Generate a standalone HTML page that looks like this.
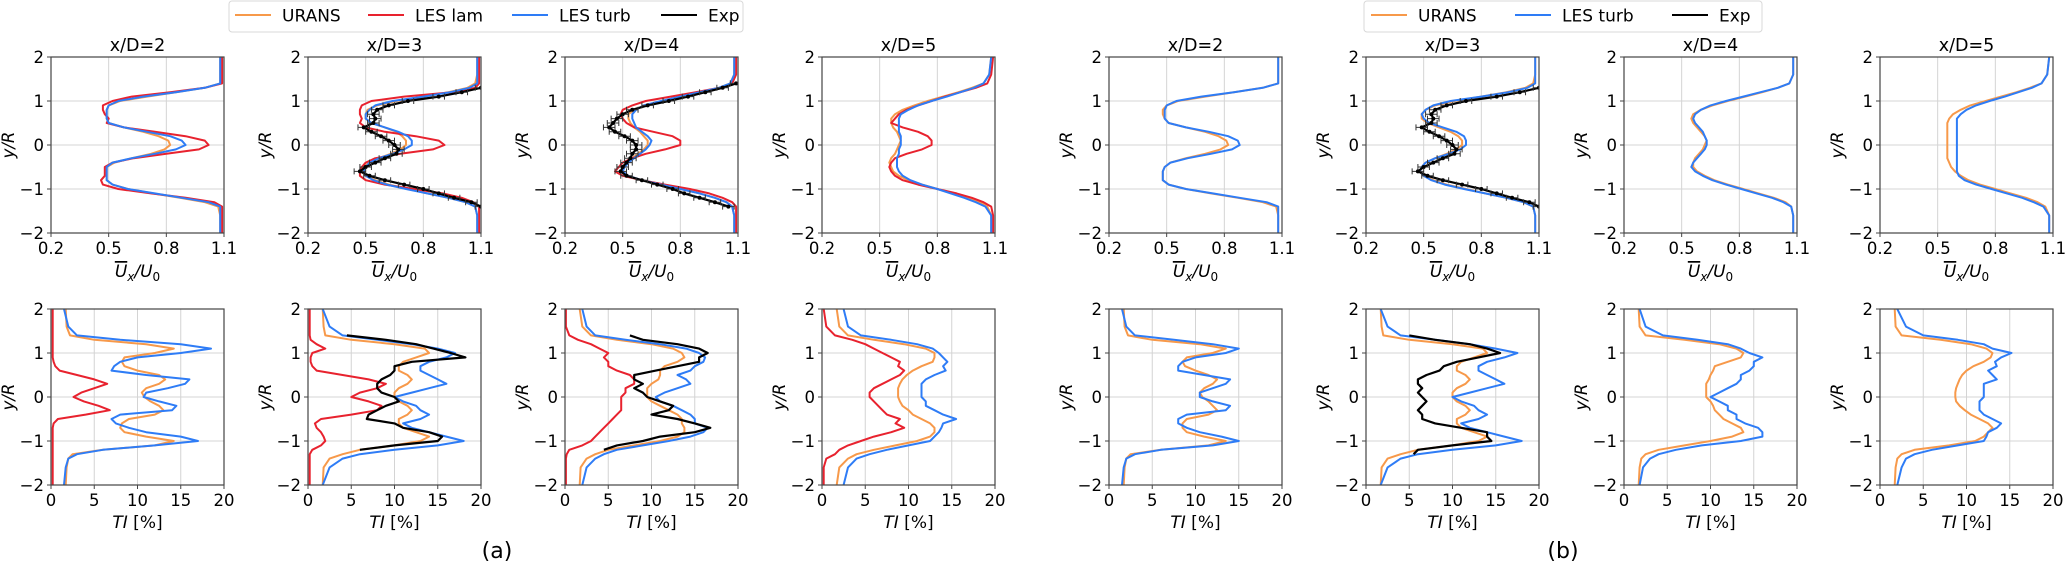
<!DOCTYPE html>
<html><head><meta charset="utf-8"><style>
html,body{margin:0;padding:0;background:#fff;}
svg{display:block;font-family:"DejaVu Sans","Liberation Sans",sans-serif;}
</style></head><body>
<svg id="fig" width="2067" height="572" viewBox="0 0 2067 572"></svg>
<script>
const yLevels=[2,1.6,1.4,1.3,1.2,1.1,1.0,0.9,0.8,0.7,0.6,0.5,0.4,0.3,0.2,0.1,0,-0.1,-0.2,-0.3,-0.4,-0.5,-0.6,-0.7,-0.8,-0.9,-1.0,-1.1,-1.2,-1.3,-1.4,-1.6,-2];
const panelTitles=["x/D=2","x/D=3","x/D=4","x/D=5","x/D=2","x/D=3","x/D=4","x/D=5"];
const velTicks=[0.2,0.5,0.8,1.1];
const tiTicks=[0,5,10,15,20];
const yTicks=[2,1,0,-1,-2];
const n=null;
const velURANS=[
[1.08,1.08,1.08,1.0,0.85,0.7,0.56,0.5,0.49,0.49,0.49,0.5,0.58,0.68,0.76,0.81,0.82,0.79,0.72,0.62,0.53,0.49,0.49,0.49,0.49,0.52,0.6,0.73,0.87,1.0,1.07,1.08,1.08],
[1.08,1.08,1.07,1.03,0.93,0.8,0.66,0.56,0.51,0.5,0.5,0.53,0.6,0.66,0.69,0.71,0.71,0.68,0.63,0.57,0.52,0.49,0.48,0.5,0.55,0.62,0.72,0.82,0.93,1.02,1.07,1.08,1.08],
[1.08,1.08,1.06,1.0,0.92,0.82,0.72,0.62,0.56,0.53,0.53,0.54,0.56,0.59,0.61,0.63,0.63,0.61,0.58,0.55,0.52,0.5,0.5,0.53,0.6,0.7,0.8,0.9,0.98,1.04,1.07,1.08,1.08],
[1.08,1.07,1.04,0.98,0.91,0.83,0.75,0.68,0.62,0.58,0.56,0.56,0.57,0.59,0.6,0.61,0.6,0.59,0.58,0.56,0.55,0.56,0.57,0.6,0.65,0.72,0.8,0.88,0.96,1.02,1.06,1.08,1.08],
[1.08,1.08,1.08,1.0,0.85,0.7,0.56,0.5,0.48,0.48,0.49,0.51,0.6,0.7,0.77,0.81,0.82,0.78,0.7,0.6,0.52,0.49,0.48,0.48,0.48,0.51,0.6,0.73,0.87,1.0,1.07,1.08,1.08],
[1.08,1.08,1.07,1.03,0.93,0.8,0.66,0.56,0.51,0.49,0.49,0.52,0.58,0.64,0.68,0.7,0.7,0.67,0.62,0.56,0.51,0.49,0.48,0.5,0.55,0.62,0.72,0.82,0.93,1.02,1.07,1.08,1.08],
[1.08,1.08,1.06,1.0,0.92,0.83,0.74,0.66,0.6,0.56,0.55,0.56,0.58,0.6,0.62,0.63,0.62,0.61,0.59,0.57,0.56,0.56,0.58,0.62,0.67,0.74,0.82,0.9,0.98,1.04,1.07,1.08,1.08],
[1.08,1.07,1.04,0.98,0.91,0.83,0.75,0.67,0.62,0.58,0.56,0.55,0.55,0.55,0.55,0.55,0.55,0.55,0.55,0.55,0.56,0.57,0.59,0.62,0.66,0.72,0.8,0.88,0.96,1.02,1.06,1.08,1.08]];
const velLam=[
[1.09,1.09,1.09,1.0,0.82,0.62,0.52,0.47,0.47,0.48,0.5,0.49,0.58,0.74,0.9,1.0,1.02,0.97,0.8,0.63,0.52,0.48,0.48,0.48,0.46,0.47,0.55,0.72,0.9,1.05,1.09,1.09,1.09],
[1.09,1.09,1.09,1.07,0.95,0.7,0.53,0.48,0.47,0.47,0.48,0.47,0.5,0.6,0.76,0.88,0.91,0.85,0.68,0.55,0.5,0.48,0.47,0.47,0.5,0.6,0.75,0.9,1.0,1.06,1.09,1.09,1.09],
[1.09,1.09,1.07,1.0,0.88,0.75,0.62,0.55,0.5,0.49,0.5,0.52,0.56,0.66,0.76,0.8,0.8,0.72,0.62,0.55,0.5,0.48,0.46,0.5,0.6,0.72,0.85,0.95,1.02,1.07,1.09,1.09,1.09],
[1.09,1.08,1.06,1.0,0.92,0.84,0.77,0.7,0.64,0.6,0.58,0.56,0.62,0.7,0.75,0.77,0.77,0.72,0.64,0.58,0.56,0.55,0.56,0.58,0.62,0.7,0.8,0.9,0.98,1.04,1.08,1.09,1.09],
n,n,n,n];
const velTurb=[
[1.08,1.08,1.08,1.0,0.85,0.68,0.55,0.5,0.49,0.49,0.49,0.5,0.58,0.7,0.82,0.88,0.9,0.85,0.74,0.62,0.52,0.49,0.49,0.49,0.49,0.52,0.6,0.74,0.88,1.02,1.08,1.08,1.08],
[1.08,1.08,1.08,1.04,0.94,0.8,0.64,0.55,0.52,0.5,0.5,0.53,0.6,0.67,0.72,0.74,0.74,0.7,0.64,0.57,0.52,0.5,0.49,0.5,0.54,0.61,0.71,0.82,0.93,1.02,1.07,1.08,1.08],
[1.08,1.08,1.06,1.0,0.9,0.8,0.7,0.61,0.57,0.55,0.55,0.56,0.57,0.6,0.63,0.65,0.64,0.62,0.59,0.56,0.53,0.51,0.5,0.53,0.6,0.7,0.8,0.9,0.98,1.04,1.07,1.08,1.08],
[1.08,1.07,1.04,0.99,0.92,0.85,0.77,0.7,0.65,0.61,0.6,0.6,0.6,0.6,0.61,0.61,0.61,0.6,0.6,0.59,0.59,0.59,0.6,0.62,0.66,0.72,0.8,0.87,0.94,1.0,1.05,1.08,1.08],
[1.08,1.08,1.08,1.0,0.85,0.68,0.55,0.5,0.49,0.49,0.49,0.51,0.6,0.72,0.82,0.87,0.88,0.84,0.73,0.61,0.52,0.49,0.48,0.48,0.48,0.51,0.6,0.74,0.88,1.02,1.08,1.08,1.08],
[1.08,1.08,1.08,1.04,0.94,0.8,0.64,0.55,0.51,0.49,0.5,0.53,0.6,0.67,0.71,0.72,0.72,0.69,0.63,0.56,0.51,0.49,0.48,0.5,0.54,0.61,0.71,0.82,0.93,1.02,1.07,1.08,1.08],
[1.08,1.08,1.06,1.0,0.91,0.82,0.73,0.65,0.6,0.57,0.56,0.57,0.59,0.61,0.62,0.63,0.63,0.62,0.6,0.58,0.56,0.55,0.57,0.61,0.66,0.73,0.81,0.89,0.97,1.03,1.07,1.08,1.08],
[1.08,1.07,1.04,0.99,0.92,0.85,0.77,0.7,0.65,0.62,0.6,0.6,0.6,0.6,0.6,0.6,0.6,0.6,0.6,0.6,0.6,0.6,0.6,0.61,0.64,0.7,0.78,0.86,0.94,1.0,1.05,1.08,1.08]];
const velExp=[n,
[n,n,n,1.1,1.0,0.88,0.72,0.62,0.56,0.54,0.55,0.54,0.49,0.53,0.58,0.62,0.65,0.67,0.66,0.6,0.55,0.5,0.47,0.52,0.6,0.7,0.8,0.88,0.96,1.05,1.1,n,n],
[n,n,1.09,1.02,0.93,0.84,0.74,0.63,0.55,0.5,0.47,0.45,0.43,0.46,0.51,0.55,0.57,0.57,0.55,0.54,0.52,0.5,0.49,0.52,0.6,0.68,0.76,0.82,0.9,0.98,1.05,n,n],
n,n,
[n,n,n,1.1,1.0,0.88,0.72,0.62,0.56,0.54,0.55,0.54,0.49,0.53,0.58,0.62,0.65,0.67,0.66,0.6,0.55,0.5,0.47,0.52,0.6,0.7,0.8,0.88,0.96,1.05,1.1,n,n],
n,n];
const tiURANS=[
[1.7,1.8,2.2,5,11,14.2,12,8.5,8.2,8.5,10,12.5,13.2,12.5,11,10.5,10.8,11.5,12.5,13,12,9,8.2,8,8.5,11,14.2,12,6,2.5,2,1.8,1.7],
[1.7,1.8,2,5,10,13.5,14,12.5,11,10.5,10.5,11.5,12,11.5,10.5,10,10,10.5,11.5,12,11.5,10.5,10.5,11,12.5,14,13,10,6,4,2.5,1.8,1.7],
[1.7,2,3,6,10,12.5,13.5,13.8,13,11.5,11,11,10.8,10,9.5,9.5,9.5,10,11,12,13,13.5,13.5,13.8,13.8,13,11,8,5,3.5,2.5,1.8,1.7],
[1.7,2,3,6,9.5,12,13,13,12.8,11.5,10.5,9.8,9.3,9,8.8,8.8,8.8,9,9.3,10,10.5,11.5,12.5,13,13,12.5,11,8.5,6,4,3,2,1.7],
[1.7,1.8,2.2,5,10.5,13.5,12,9,8.5,8.8,10,11.5,12.5,12,11,10.5,10.8,11.5,12,12.5,11.5,9,8.5,8.5,9,11,13.5,11.5,6,2.5,2,1.8,1.7],
[1.7,1.8,2,5,10,13.5,14,12.5,11,10.5,10.5,11.5,12,11.5,10.5,10,10,10.5,11.5,12,11.5,10.5,10.5,11,12.5,14,13,10,6,4,2.5,1.8,1.7],
[1.7,1.8,2.5,7,11,13,13.8,13.5,12,10.5,10.3,10,9.8,9.5,9.5,9.5,9.5,10,10.3,10.5,11,11.5,12.5,13.5,13.8,12.5,10,7,4,2.5,2,1.8,1.7],
[1.7,1.8,2.5,7,10.5,12.3,13,12.8,12,10.8,10,9.5,9.2,9,8.8,8.7,8.7,8.8,9.2,9.8,10.5,11.5,12.5,13,12.5,12,11,8,4,2.5,2,1.8,1.7]];
const tiLam=[
[0.2,0.2,0.2,0.2,0.2,0.2,0.2,0.2,0.3,0.5,1,3,5,6.5,5,3.5,2.6,3.8,5.5,6.8,4,0.8,0.3,0.2,0.2,0.2,0.2,0.2,0.2,0.2,0.2,0.2,0.2],
[0.2,0.2,0.2,0.3,1,2,0.5,0.3,0.3,0.5,1,4,7,9,8,6,5,7,8.5,8,5,1.5,0.8,1,1.5,1.8,2,1.5,0.5,0.2,0.2,0.2,0.2],
[0.1,0.1,0.5,1.5,3,4,5,4.5,5,5,6,7.5,8,8,7,7,6.5,6.5,6.5,6.5,6,5.5,5,4.5,4,3.5,3,2,0.5,0.2,0.1,0.1,0.1],
[0.2,0.5,1.5,3.5,5,6,7,8,9,8.8,9.5,9,8,7,6,5.5,5.5,6,6.5,7,7.5,9,8.5,9.5,8,6,4.5,3,2,1.5,0.5,0.2,0.2],
n,n,n,n];
const tiTurb=[
[1.5,2,3,8,15,18.5,15,10,8,7.3,7,11,16,15.5,13.5,11,10.7,12.5,14.5,14,8,7,7.5,9,11,15,17,12,6,3,2,1.7,1.5],
[1.7,2.5,4,8,12,15,17,16,14,13,13,14,15,16,14,12,10,11,12.5,13,14,13,11,12,14,16,18,15,10,6,4,2.5,1.7],
[2,2.5,3.5,7,11,14,15.5,16.2,16,15,14.5,13,14,14.5,13,11.5,10.5,11,12.5,13.5,14.5,15,15,16.5,16,14.5,12,9,6,4.5,3.5,2.5,2],
[2.5,3,4.5,8,11,12.8,13.5,14,14.5,14,14.3,13,12,11.5,11.5,11.5,11.5,12,12,13,14,15.5,14,13.8,13.5,13,12.5,10,7.5,5.5,4,3,2.5],
[1.5,2,3,7.5,12,15,13.5,10,8.5,8,8,11,14,13.5,12,10.5,10.5,12,14,13.5,9,8,8,9,10.5,13,15,12,6,3,2,1.7,1.5],
[1.7,2.5,4,8,12,15,17.5,16,14,13,13,14,15,16,14,12,10,11,12.5,13,14,13,11,12,14,16,18,15,10,6,4,2.5,1.7],
[1.8,2.5,4.5,8.5,12,13.5,14.5,16,15,15,14.5,13.5,13.5,13,12,11,10,11,12,12,13,13,14,15.5,16,16,13.5,9,6,4,3,2.2,1.8],
[2,3,5,9,12,13,15.2,14,13.3,13.5,12.5,13,13.5,12,12,12,12,11.5,11.5,11.5,12,13,14,13.5,12.5,12.3,12,9,6,4,3,2.5,2]];
const tiExp=[n,
[n,n,4.5,9,12.5,14.5,16.5,18.2,12,10,10,9.5,8.5,8,8,8.5,10,10.5,9,8,7,6.8,10,11,14,15.5,15,10,6,n,n,n,n],
[n,n,7.5,9,13,15.5,16.5,15.5,15.5,13,10.5,8,8,9,8,9,9.5,11,12.5,12,10,13,15,16.8,15,11,9,6,4.5,n,n,n,n],
n,n,
[n,n,5,8,12,14,15.5,13,10.5,9,8.5,7,6,6,6.5,6,6.5,7,6.5,6,6.5,6.5,8,11,14,14,14.5,10,6,5.5,n,n,n],
n,n];

const NS="http://www.w3.org/2000/svg";
const svg=document.getElementById('fig');
const C={urans:"#f7994a",lam:"#e8222e",turb:"#2e7cf6",exp:"#000"};
const colX=[51,308,565,822,1109,1366,1624,1880];
const AW=173,AH=176,rowY=[57,309];
function mk(tag,attrs,parent){const e=document.createElementNS(NS,tag);for(const k in attrs)e.setAttribute(k,attrs[k]);(parent||svg).appendChild(e);return e;}
function txt(s,x,y,size,anchor,parent,extra){const t=mk('text',Object.assign({x:x,y:y,'font-size':size,'text-anchor':anchor||'middle',fill:'#000'},extra||{}),parent);t.textContent=s;return t;}

function drawAxes(pi,row,xmin,xmax,xt,series){
  const x0=colX[pi],y0=rowY[row];
  const sx=v=>x0+(v-xmin)/(xmax-xmin)*AW;
  const sy=v=>y0+(2-v)/4*AH;
  const g=mk('g',{});
  
  
  xt.forEach(v=>{const l=mk('line',{x1:sx(v),x2:sx(v),y1:y0,y2:y0+AH,stroke:'#d4d4d4','stroke-width':1},g);
    });
  yTicks.forEach(v=>{const l=mk('line',{x1:x0,x2:x0+AW,y1:sy(v),y2:sy(v),stroke:'#d4d4d4','stroke-width':1},g);
    });
  const clipId='c'+pi+'_'+row;
  const cp=mk('clipPath',{id:clipId},g);mk('rect',{x:x0,y:y0,width:AW,height:AH},cp);
  const lg=mk('g',{'clip-path':'url(#'+clipId+')'},g);
  series.forEach(s=>{
    if(!s.data)return;
    let d='';let pen=false;
    s.data.forEach((v,i)=>{if(v===null){pen=false;return;}d+=(pen?'L':'M')+sx(v).toFixed(1)+','+sy(yLevels[i]).toFixed(1);pen=true;});
    const p=mk('path',{d:d,fill:'none',stroke:s.color,'stroke-width':s.w||2,'stroke-linejoin':'round'},lg);
    
    
    if(s.err){s.data.forEach((v,i)=>{if(v===null)return;const y=sy(yLevels[i]);const a=sx(v-0.03),b=sx(v+0.03);
      const e=mk('path',{d:`M${a},${y}H${b}M${a},${y-3}V${y+3}M${b},${y-3}V${y+3}`,stroke:'#333','stroke-width':1,fill:'none'},lg);
      
      
      const c=mk('circle',{cx:sx(v),cy:y,r:2,fill:'#000'},lg);
      
      });}
  });
  const sp=mk('rect',{x:x0,y:y0,width:AW,height:AH,fill:'none',stroke:'#444','stroke-width':1.2},g);
  
  xt.forEach(v=>{mk('line',{x1:sx(v),x2:sx(v),y1:y0+AH,y2:y0+AH+4,stroke:'#444'},g);
    const t=txt(String(v),sx(v),y0+AH+21,16.5,'middle',g);});
  yTicks.forEach(v=>{mk('line',{x1:x0-4,x2:x0,y1:sy(v),y2:sy(v),stroke:'#444'},g);
    const t=txt(v<0?'\u2212'+(-v):String(v),x0-7,sy(v)+6,16.5,'end',g);});
  const yl=txt('',x0-37,y0+AH/2,16.5,'middle',g,{transform:`rotate(-90 ${x0-37} ${y0+AH/2})`,'font-style':'italic'});
  yl.textContent='y/R';
  if(row===0){
    const tt=txt(panelTitles[pi],x0+AW/2,y0-6,17.5,'middle',g);
    const xl=mk('text',{x:x0+AW/2,y:y0+AH+44,'font-size':17,'text-anchor':'middle'},g);
    xl.innerHTML='<tspan font-style="italic" text-decoration="overline">U</tspan><tspan font-style="italic" font-size="12" dy="4">x</tspan><tspan dy="-4" font-style="italic">/U</tspan><tspan font-size="12" dy="4">0</tspan>';
    
  } else {
    const xl=mk('text',{x:x0+AW/2,y:y0+AH+43,'font-size':17,'text-anchor':'middle'},g);
    xl.innerHTML='<tspan font-style="italic">TI</tspan> [%]';
    
  }
}
for(let p=0;p<8;p++){
  drawAxes(p,0,0.2,1.1,velTicks,[
    {name:'urans',color:C.urans,data:velURANS[p]},
    {name:'les-lam',color:C.lam,data:velLam[p]},
    {name:'les-turb',color:C.turb,data:velTurb[p]},
    {name:'exp',color:C.exp,data:velExp[p],err:true,w:2.2}]);
  drawAxes(p,1,0,20,tiTicks,[
    {name:'urans',color:C.urans,data:tiURANS[p]},
    {name:'les-lam',color:C.lam,data:tiLam[p]},
    {name:'les-turb',color:C.turb,data:tiTurb[p]},
    {name:'exp',color:C.exp,data:tiExp[p],w:2.2}]);
}
function legend(x,w,items,nm){
  const g=mk('g',{});
  
  
  mk('rect',{x:x,y:1,width:w,height:31,rx:3,fill:'#fff',stroke:'#d8d8d8'},g);
  items.forEach(it=>{
    const e=mk('g',{},g);
    
    
    mk('line',{x1:it.x,x2:it.x+36,y1:15,y2:15,stroke:it.c,'stroke-width':2},e);
    txt(it.l,it.x+47,21.5,17,'start',e);
  });
}
legend(229,514,[{x:235,c:C.urans,l:'URANS'},{x:368,c:C.lam,l:'LES lam'},{x:512,c:C.turb,l:'LES turb'},{x:661,c:C.exp,l:'Exp'}],'legend-a');
legend(1364,398,[{x:1371,c:C.urans,l:'URANS'},{x:1515,c:C.turb,l:'LES turb'},{x:1672,c:C.exp,l:'Exp'}],'legend-b');
const la=txt('(a)',497,558,22,'middle');
const lb=txt('(b)',1563,558,22,'middle');
</script>
</body></html>
